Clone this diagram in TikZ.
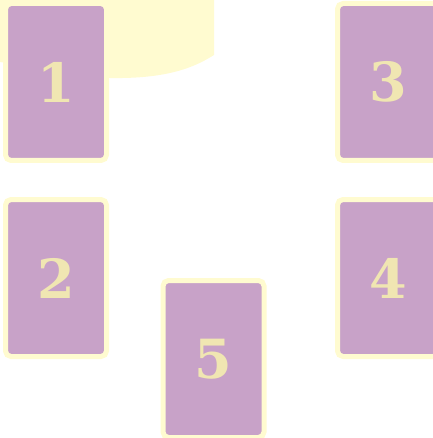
\documentclass[tikz,border=0pt]{standalone}
\usepackage{fontspec}
\usepackage{tikz}
\usetikzlibrary{positioning}
\newfontfamily\digitfont{DejaVu Serif}
\definecolor{lilac}{HTML}{C8A2C8}
\definecolor{cream}{HTML}{FFFBD0}
\definecolor{gold}{HTML}{F0E6B2}

\begin{document}
\begin{tikzpicture}[x=1pt, y=-1pt,
    card/.style={rectangle, fill=lilac, draw=cream, line width=5pt,
                 rounded corners=5.5pt, minimum width=101pt, minimum height=157pt,
                 inner sep=0pt, text=gold, font=\digitfont\bfseries\fontsize{54}{54}\selectfont}]
  \useasboundingbox (0,0) rectangle (432,438);
  % pale blob behind
  \fill[cream] (0,0) -- (0,62) -- (110,78) .. controls (168,79) and (195,67) .. (214,55)
    -- (214,0) -- cycle;
  % the five cards
  \node[card] (card1) at (56,82)    {1};
  \node[card] (card2) at (56,278)   {2};
  \node[card] (card3) at (388,82)   {3};
  \node[card] (card4) at (388,278)  {4};
  \node[card] (card5) at (213.5,359) {5};
\end{tikzpicture}
\end{document}
